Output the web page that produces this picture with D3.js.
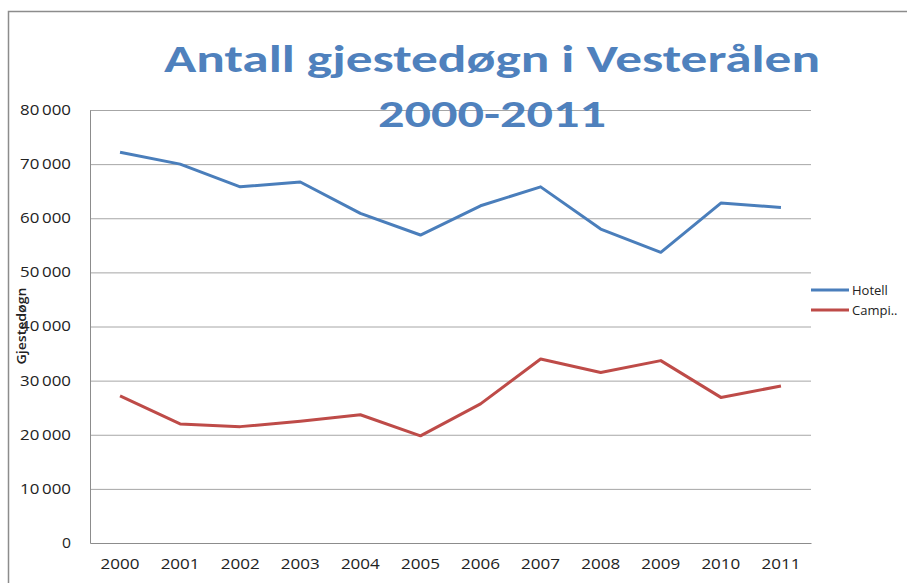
<!DOCTYPE html>
<html lang="no">
<head>
  <meta charset="UTF-8">
  <title>Antall gjestedøgn i Vesterålen 2000-2011</title>
  <style>
    body { margin: 0; background: #fff; }
    svg { display: block; }
  </style>
</head>
<body>
  <svg id="svg" width="907" height="583"></svg>
  <script src="https://d3js.org/d3.v7.min.js"></script>
  <script>
    var years = ["2000", "2001", "2002", "2003", "2004", "2005", "2006", "2007", "2008", "2009", "2010", "2011"];
    var hotell = [72200, 70000, 65800, 66700, 60900, 56900, 62300, 65800, 58000, 53700, 62800, 62000];
    var camping = [27200, 22000, 21500, 22500, 23700, 19800, 25700, 34000, 31500, 33700, 26900, 29000];
    var seriesNames = ["Hotell", "Campi.."];
    var yTicks = [0, 10000, 20000, 30000, 40000, 50000, 60000, 70000, 80000];

    var svg = d3.select("svg"),
      margin = { top: 110, right: 96, bottom: 40, left: 90 },
      width = +svg.attr("width") - margin.left - margin.right,
      height = +svg.attr("height") - margin.top - margin.bottom,
      font = "Calibri, Carlito, 'Open Sans', sans-serif",
      labelFont = "'Open Sans', sans-serif";

    // outer chart frame (left and top edges visible)
    svg.append("path")
      .attr("d", "M8.5,583V11.5H907")
      .attr("fill", "none")
      .attr("stroke", "#8c8c8c")
      .attr("stroke-width", 1.5);

    var g = svg.append("g").attr("transform", "translate(" + margin.left + "," + margin.top + ")");

    var x = d3.scaleBand().domain(years).range([0, width]);
    var y = d3.scaleLinear().domain([0, 80000]).range([height, 0]);

    // grid
    g.append("g")
      .selectAll("line")
      .data(yTicks.slice(1))
      .enter().append("line")
      .attr("x1", 0).attr("x2", width)
      .attr("y1", function (d) { return y(d) + 0.5; })
      .attr("y2", function (d) { return y(d) + 0.5; })
      .attr("stroke", "#a6a6a6");

    // y axis
    var yAxis = g.append("g")
      .call(d3.axisLeft(y).tickValues(yTicks).tickSize(0).tickPadding(19).tickFormat(function (d) {
        return d === 0 ? "0" : (d / 1000) + "\u2009000";
      }));
    yAxis.select(".domain").attr("stroke", "#8c8c8c").attr("stroke-width", 1);
    yAxis.selectAll("text")
      .attr("font-family", labelFont).attr("font-size", 14).attr("fill", "#222")
      .attr("textLength", function (d) { return d === 0 ? 9 : 51; })
      .attr("lengthAdjust", "spacingAndGlyphs");

    // x axis
    var xAxis = g.append("g")
      .attr("transform", "translate(0," + height + ")")
      .call(d3.axisBottom(x).tickSize(0).tickPadding(15));
    xAxis.select(".domain").attr("stroke", "#8c8c8c");
    xAxis.selectAll("text")
      .attr("font-family", labelFont).attr("font-size", 15).attr("fill", "#222")
      .attr("textLength", 39).attr("lengthAdjust", "spacingAndGlyphs");

    var line = d3.line()
      .x(function (d, i) { return x(years[i]) + x.bandwidth() / 2; })
      .y(function (d) { return y(d); });

    var colors = ["#4a7ebb", "#be4b48"];
    [hotell, camping].forEach(function (s, i) {
      g.append("path")
        .datum(s)
        .attr("d", line)
        .attr("fill", "none")
        .attr("stroke", colors[i])
        .attr("stroke-width", 3)
        .attr("stroke-linejoin", "round");
    });

    // legend
    var legend = svg.append("g")
      .selectAll("g")
      .data(seriesNames)
      .enter().append("g")
      .attr("transform", function (d, i) { return "translate(811," + (290 + i * 20) + ")"; });
    legend.append("line")
      .attr("x2", 38)
      .attr("stroke", function (d, i) { return colors[i]; })
      .attr("stroke-width", 3);
    legend.append("text")
      .attr("x", 41)
      .attr("dy", "0.35em")
      .attr("font-family", labelFont)
      .attr("font-size", 13)
      .attr("fill", "#222")
      .text(function (d) { return d; });

    // y title
    svg.append("text")
      .attr("transform", "translate(26,326)rotate(-90)")
      .attr("text-anchor", "middle")
      .attr("font-family", labelFont)
      .attr("font-size", 13)
      .attr("font-weight", 600)
      .attr("fill", "#222")
      .attr("textLength", 77).attr("lengthAdjust", "spacingAndGlyphs")
      .text("Gjestedøgn");

    // title
    var title = svg.append("g")
      .attr("font-family", font)
      .attr("font-weight", "bold")
      .attr("font-size", 38)
      .attr("fill", "#4f81bd")
      .attr("text-anchor", "middle");
    title.append("text").attr("x", 492).attr("y", 72)
      .attr("textLength", 656).attr("lengthAdjust", "spacingAndGlyphs")
      .text("Antall gjestedøgn i Vesterålen");
    title.append("text").attr("x", 492).attr("y", 127)
      .attr("textLength", 228).attr("lengthAdjust", "spacingAndGlyphs")
      .text("2000-2011");
  </script>
</body>
</html>
